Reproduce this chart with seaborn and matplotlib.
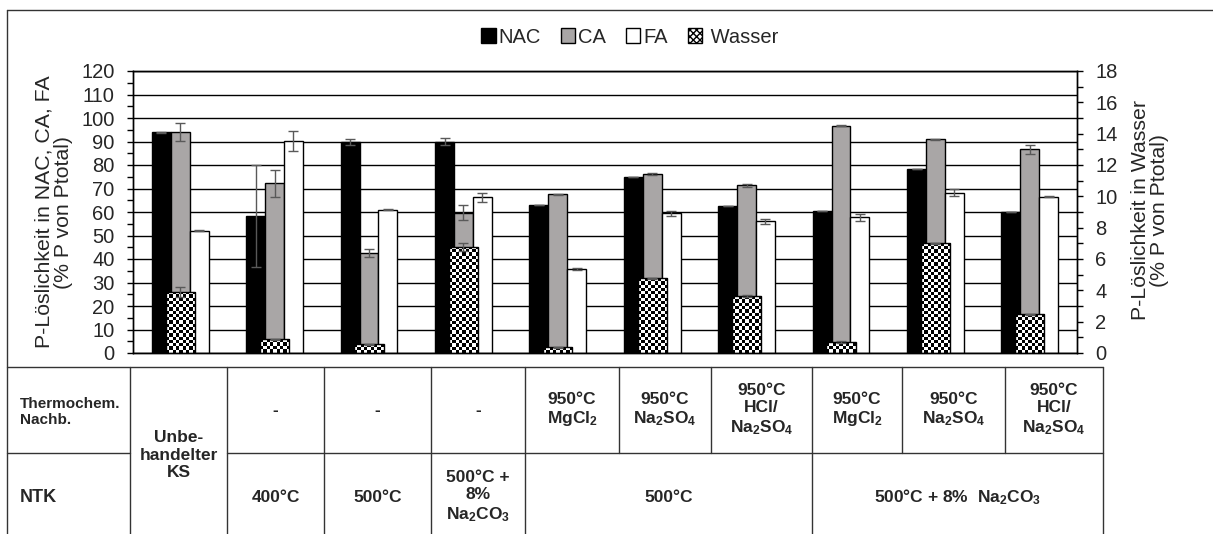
import numpy as np
import pandas as pd
import matplotlib
matplotlib.use("Agg")
import matplotlib.pyplot as plt
import seaborn as sns
from matplotlib.patches import Patch
from matplotlib.lines import Line2D
from matplotlib.ticker import MultipleLocator

# data
proben = ["Unbehandelter KS", "400°C", "500°C", "500°C + 8% Na2CO3",
          "500°C MgCl2", "500°C Na2SO4", "500°C HCl/Na2SO4",
          "Na2CO3 MgCl2", "Na2CO3 Na2SO4", "Na2CO3 HCl/Na2SO4"]
extraktion = ["NAC", "CA", "FA"]
nac = [94.0, 58.3, 89.9, 89.9, 63.0, 75.0, 62.7, 60.3, 78.1, 60.0]
nac_err = [0.2, 21.8, 1.2, 1.4, 0.0, 0.0, 0.0, 0.0, 0.0, 0.0]
ca = [94.0, 72.2, 42.5, 59.7, 67.5, 76.0, 71.3, 96.8, 91.0, 86.6]
ca_err = [3.7, 5.7, 1.6, 3.2, 0.3, 0.4, 0.6, 0.2, 0.2, 2.0]
fa = [52.1, 90.3, 61.0, 66.2, 35.7, 59.4, 56.0, 57.7, 68.2, 66.4]
fa_err = [0.2, 4.2, 0.2, 1.8, 0.4, 1.1, 1.0, 1.4, 1.6, 0.2]
wasser = [3.9, 0.87, 0.55, 6.77, 0.36, 4.76, 3.63, 0.70, 7.0, 2.46]
wasser_err = [0.3, 0.05, 0.05, 0.28, 0.03, 0.05, 0.05, 0.05, 0.05, 0.05]

farben = ["black", "#A9A6A6", "white"]

sns.set_theme(style="white")
plt.rcParams["font.family"] = ["Liberation Sans", "DejaVu Sans"]
plt.rcParams["mathtext.fontset"] = "custom"
plt.rcParams["mathtext.rm"] = "Liberation Sans:bold"
plt.rcParams["mathtext.bf"] = "Liberation Sans:bold"
plt.rcParams["mathtext.default"] = "bf"

W, H = 1213, 534
fig = plt.figure(figsize=(W / 100, H / 100), dpi=100)
ax = fig.add_axes([133 / W, 1 - 353 / H, 944 / W, 282 / H])

df = pd.DataFrame({
    "Probe": proben * 3,
    "Extraktion": sum([[e] * len(proben) for e in extraktion], []),
    "P": nac + ca + fa,
})
sns.barplot(data=df, x="Probe", y="P", hue="Extraktion", palette=farben,
            edgecolor="black", linewidth=1, width=0.6, errorbar=None,
            legend=False, ax=ax)
xlim = ax.get_xlim()

for cont, err in zip(ax.containers, [nac_err, ca_err, fa_err]):
    xs = [p.get_x() + p.get_width() / 2 for p in cont.patches]
    ys = [p.get_height() for p in cont.patches]
    ax.errorbar(xs, ys, yerr=err, fmt="none", ecolor="#595959",
                elinewidth=1, capsize=3.5, capthick=1, zorder=3)

ax.set_ylim(0, 120)
ax.yaxis.set_major_locator(MultipleLocator(10))
ax.yaxis.set_minor_locator(MultipleLocator(5))
ax.yaxis.grid(True, color="black", lw=1)
ax.set_axisbelow(True)
ax.set_xlabel("")
ax.set_ylabel("")
ax.tick_params(axis="y", which="both", left=True, direction="out",
               length=4.3, width=1, color="black", labelsize=14.5, pad=9)

# Wasser on the secondary axis
ax2 = ax.twinx()
sns.barplot(x=proben, y=wasser, color="white", edgecolor="black",
            linewidth=1, width=0.31, errorbar=None, ax=ax2)
ax2.set_xlim(xlim)
ax2.set_ylim(0, 18)
for p in ax2.patches:
    p.set_facecolor("none")
    x0, w, h = p.get_x(), p.get_width(), p.get_height()
    (px0, py0) = ax2.transData.transform((x0, 0))
    (px1, py1) = ax2.transData.transform((x0 + w, h))
    nx = max(1, int(round((px1 - px0) / 3.25)))
    ny = max(1, int(round((py1 - py0) / 3.25)))
    checker = np.indices((ny, nx)).sum(axis=0) % 2
    im = ax2.imshow(checker, cmap="gray", extent=(x0, x0 + w, 0, h),
                    aspect="auto", interpolation="nearest", zorder=0.9)
    im.set_clip_path(p)
xs = [p.get_x() + p.get_width() / 2 for p in ax2.patches]
ax2.errorbar(xs, wasser, yerr=wasser_err, fmt="none", ecolor="#595959",
             elinewidth=1, capsize=3.5, capthick=1, zorder=3)
ax2.set_xlim(xlim)
ax2.set_ylim(0, 18)
ax2.set_aspect("auto")
ax2.yaxis.set_major_locator(MultipleLocator(2))
ax2.yaxis.set_minor_locator(MultipleLocator(1))
ax2.set_ylabel("")
ax2.set_xticks([])
ax2.tick_params(axis="y", which="both", right=True, direction="out",
                length=4.3, width=1, color="black", labelsize=14.5, pad=9)

for a in (ax, ax2):
    for s in a.spines.values():
        s.set_color("black")
        s.set_linewidth(1)

fig.text(54 / W, 1 - 212 / H, "P-Löslichkeit in NAC, CA, FA\n(% P von Ptotal)",
         rotation=90, ha="center", va="center", fontsize=15.3, linespacing=1.0)
fig.text(1150 / W, 1 - 210 / H, "P-Löslichkeit in Wasser\n(% P von Ptotal)",
         rotation=90, ha="center", va="center", fontsize=15.3, linespacing=1.0)

handles = [Patch(facecolor=c, edgecolor="black", lw=1) for c in farben]
handles.append(Patch(facecolor="white", edgecolor="black", hatch="xxxxx", lw=1))
fig.legend(handles, ["NAC", "CA", "FA", " Wasser"], loc="center",
           bbox_to_anchor=(630 / W, 1 - 37 / H), ncol=4, frameon=False,
           fontsize=14.5, handlelength=0.7, handleheight=0.7,
           handletextpad=0.15, columnspacing=1.0)


# table below the chart, in pixel coordinates
def linie(x0, y0, x1, y1):
    fig.add_artist(Line2D([x0 / W, x1 / W], [1 - y0 / H, 1 - y1 / H],
                          transform=fig.transFigure, color="#333333", lw=1))


def zelle(x, y, s, size=12.5, ha="center"):
    fig.text(x / W, 1 - y / H, s, ha=ha, va="center", fontsize=size,
             fontweight="bold", linespacing=1.2, multialignment=ha)


linie(7, 10, W, 10)
linie(7, 10, 7, H)
linie(7, 367, 1103, 367)
linie(7, 453, 130, 453)
linie(227, 453, 1103, 453)
for x in [130, 227, 324, 431, 525, 812, 1103]:
    linie(x, 367, x, H)
for x in [619, 711, 902, 1005]:
    linie(x, 367, x, 453)

zelle(20, 412, "Thermochem.\nNachb.", size=11, ha="left")
zelle(20, 498, "NTK", size=13, ha="left")
zelle(178.5, 455, "Unbe-\nhandelter\nKS")
oben = ["-", "-", "-",
        "950°C\nMgCl$_2$", "950°C\nNa$_2$SO$_4$", "950°C\nHCl/\nNa$_2$SO$_4$",
        "950°C\nMgCl$_2$", "950°C\nNa$_2$SO$_4$", "950°C\nHCl/\nNa$_2$SO$_4$"]
kanten = [227, 324, 431, 525, 619, 711, 812, 902, 1005, 1103]
for i, s in enumerate(oben):
    zelle((kanten[i] + kanten[i + 1]) / 2, 410, s)
unten = [(227, 324, "400°C"), (324, 431, "500°C"),
         (431, 525, "500°C +\n8%\nNa$_2$CO$_3$"), (525, 812, "500°C"),
         (812, 1103, "500°C + 8%  Na$_2$CO$_3$")]
for x0, x1, s in unten:
    zelle((x0 + x1) / 2, 497, s)

fig.savefig("out.png", dpi=100, facecolor="white")
